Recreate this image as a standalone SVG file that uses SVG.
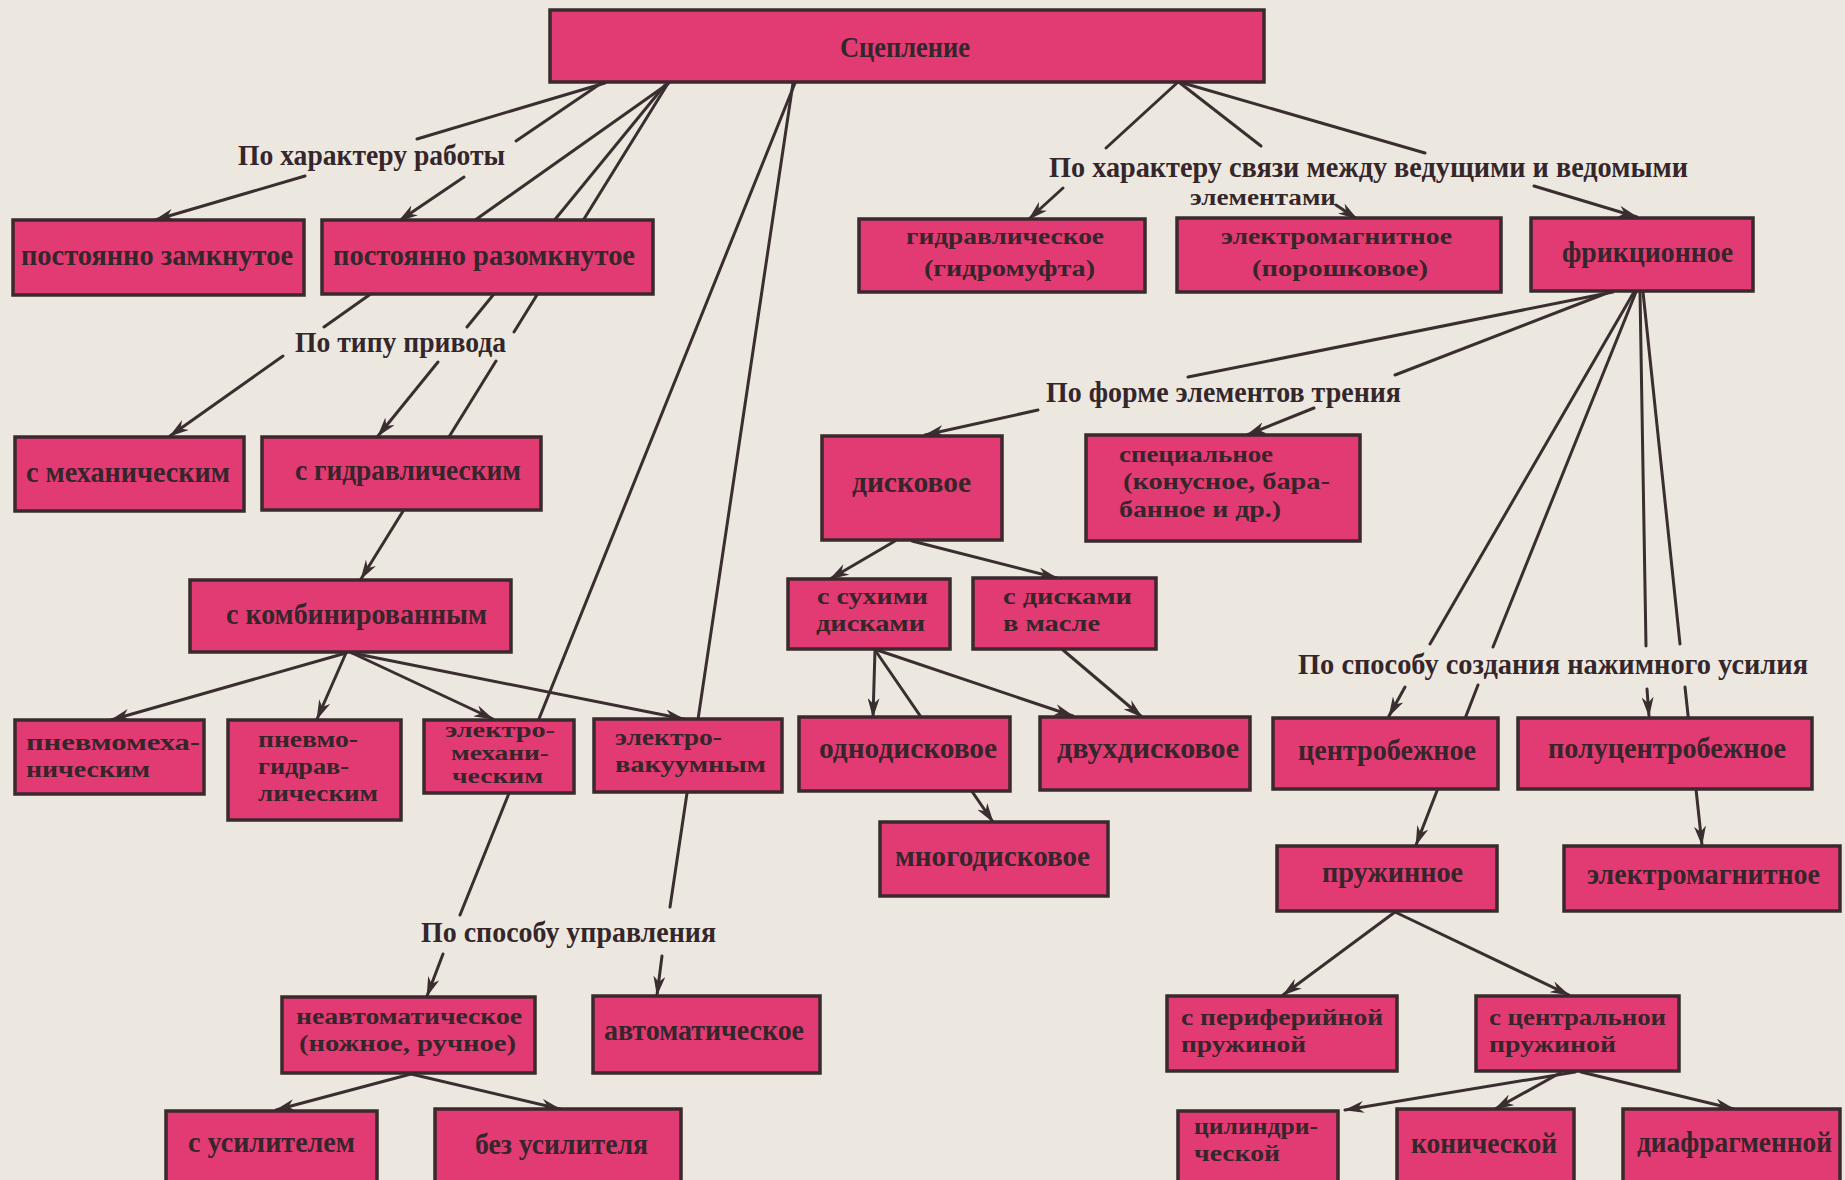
<svg xmlns="http://www.w3.org/2000/svg" width="1845" height="1180" viewBox="0 0 1845 1180">
<defs>
<marker id="ah" viewBox="0 0 20 12" markerWidth="20" markerHeight="12" refX="19" refY="6" markerUnits="userSpaceOnUse" orient="auto">
<path d="M0,0 L20,6 L0,12 L6,6 Z" fill="#3a2e30"/>
</marker>
<style>
.bg{fill:#ece8df}
.box{fill:#e23a72;stroke:#3a2a2e;stroke-width:3.5}
.t{font-family:"Liberation Serif","DejaVu Serif",serif;font-weight:bold;font-size:29px;fill:#35262b}
.m{font-size:24px}
.s{font-size:20px}
.c{stroke:#3a2e30;stroke-width:3;fill:none;stroke-linecap:round}
.a{marker-end:url(#ah)}
</style>
</defs>
<rect class="bg" x="0" y="0" width="1845" height="1180"/>
<g id="connectors">
<line class="c" x1="605" y1="83" x2="417" y2="139"/>
<line class="c a" x1="305" y1="176" x2="155" y2="220"/>
<line class="c" x1="600" y1="84" x2="516" y2="141"/>
<line class="c a" x1="464" y1="177" x2="399" y2="221"/>
<line class="c" x1="669" y1="83" x2="324" y2="327"/>
<line class="c a" x1="283" y1="356" x2="170" y2="436"/>
<line class="c" x1="665" y1="85" x2="467" y2="327"/>
<line class="c a" x1="438" y1="362" x2="378" y2="436"/>
<line class="c" x1="667" y1="85" x2="514" y2="332"/>
<line class="c a" x1="496" y1="361" x2="361" y2="579"/>
<line class="c" x1="795" y1="83" x2="460" y2="915"/>
<line class="c a" x1="443" y1="954" x2="427" y2="996"/>
<line class="c" x1="793" y1="83" x2="670" y2="907"/>
<line class="c a" x1="662" y1="956" x2="657" y2="995"/>
<line class="c" x1="1177" y1="83" x2="1106" y2="148"/>
<line class="c a" x1="1063" y1="188" x2="1029" y2="219"/>
<line class="c" x1="1180" y1="83" x2="1261" y2="146"/>
<line class="c a" x1="1336" y1="205" x2="1357" y2="219"/>
<line class="c" x1="1183" y1="83" x2="1425" y2="153"/>
<line class="c a" x1="1534" y1="186" x2="1637" y2="217"/>
<line class="c" x1="1613" y1="292" x2="1188" y2="377"/>
<line class="c a" x1="1038" y1="410" x2="925" y2="435"/>
<line class="c" x1="1607" y1="293" x2="1395" y2="375"/>
<line class="c a" x1="1314" y1="408" x2="1247" y2="435"/>
<line class="c" x1="1634" y1="292" x2="1430" y2="644"/>
<line class="c a" x1="1405" y1="687" x2="1389" y2="716"/>
<line class="c" x1="1636" y1="292" x2="1493" y2="647"/>
<line class="c a" x1="1478" y1="685" x2="1416" y2="845"/>
<line class="c" x1="1640" y1="292" x2="1646" y2="646"/>
<line class="c a" x1="1647" y1="689" x2="1649" y2="716"/>
<line class="c" x1="1643" y1="292" x2="1680" y2="644"/>
<line class="c a" x1="1685" y1="687" x2="1702" y2="845"/>
<line class="c a" x1="895" y1="541" x2="830" y2="579"/>
<line class="c a" x1="912" y1="541" x2="1057" y2="578"/>
<line class="c a" x1="875" y1="650" x2="873" y2="717"/>
<line class="c a" x1="875" y1="650" x2="993" y2="822"/>
<line class="c a" x1="877" y1="650" x2="1073" y2="716"/>
<line class="c a" x1="1063" y1="650" x2="1142" y2="717"/>
<line class="c a" x1="346" y1="653" x2="111" y2="720"/>
<line class="c a" x1="346" y1="653" x2="317" y2="719"/>
<line class="c a" x1="352" y1="653" x2="493" y2="719"/>
<line class="c a" x1="352" y1="653" x2="684" y2="719"/>
<line class="c a" x1="411" y1="1074" x2="276" y2="1110"/>
<line class="c a" x1="411" y1="1074" x2="560" y2="1109"/>
<line class="c a" x1="1395" y1="912" x2="1283" y2="995"/>
<line class="c a" x1="1395" y1="912" x2="1569" y2="995"/>
<line class="c a" x1="1575" y1="1072" x2="1345" y2="1110"/>
<line class="c a" x1="1560" y1="1073" x2="1495" y2="1109"/>
<line class="c a" x1="1581" y1="1072" x2="1734" y2="1109"/>
</g>
<g id="labels">
<text class="t" x="238" y="165" textLength="267" lengthAdjust="spacingAndGlyphs">По характеру работы</text>
<text class="t" x="295" y="352" textLength="211" lengthAdjust="spacingAndGlyphs">По типу привода</text>
<text class="t" x="421" y="942" textLength="295" lengthAdjust="spacingAndGlyphs">По способу управления</text>
<text class="t" x="1049" y="177" textLength="639" lengthAdjust="spacingAndGlyphs">По характеру связи между ведущими и ведомыми</text>
<text class="t m" x="1190" y="205" textLength="146" lengthAdjust="spacingAndGlyphs">элементами</text>
<text class="t" x="1046" y="402" textLength="355" lengthAdjust="spacingAndGlyphs">По форме элементов трения</text>
<text class="t" x="1298" y="674" textLength="510" lengthAdjust="spacingAndGlyphs">По способу создания нажимного усилия</text>
</g>
<g id="n0"><rect class="box" x="550" y="10" width="714" height="72"/><text class="t" x="840" y="57" textLength="130" lengthAdjust="spacingAndGlyphs">Сцепление</text></g>
<g id="n1"><rect class="box" x="13" y="220" width="291" height="75"/><text class="t" x="21" y="265" textLength="272" lengthAdjust="spacingAndGlyphs">постоянно замкнутое</text></g>
<g id="n2"><rect class="box" x="322" y="220" width="331" height="74"/><text class="t" x="333" y="265" textLength="302" lengthAdjust="spacingAndGlyphs">постоянно разомкнутое</text></g>
<g id="n3"><rect class="box" x="15" y="437" width="229" height="74"/><text class="t" x="26" y="482" textLength="204" lengthAdjust="spacingAndGlyphs">с механическим</text></g>
<g id="n4"><rect class="box" x="262" y="437" width="279" height="73"/><text class="t" x="295" y="480" textLength="226" lengthAdjust="spacingAndGlyphs">с гидравлическим</text></g>
<g id="n5"><rect class="box" x="190" y="580" width="321" height="72"/><text class="t" x="226" y="624" textLength="261" lengthAdjust="spacingAndGlyphs">с комбинированным</text></g>
<g id="n6"><rect class="box" x="15" y="720" width="189" height="74"/><text class="t m" x="26" y="750" textLength="174" lengthAdjust="spacingAndGlyphs">пневмомеха-</text><text class="t m" x="26" y="777" textLength="124" lengthAdjust="spacingAndGlyphs">ническим</text></g>
<g id="n7"><rect class="box" x="228" y="720" width="173" height="100"/><text class="t m" x="258" y="747" textLength="100" lengthAdjust="spacingAndGlyphs">пневмо-</text><text class="t m" x="258" y="774" textLength="91" lengthAdjust="spacingAndGlyphs">гидрав-</text><text class="t m" x="258" y="801" textLength="120" lengthAdjust="spacingAndGlyphs">лическим</text></g>
<g id="n8"><rect class="box" x="424" y="720" width="150" height="73"/><text class="t s" x="445" y="737" textLength="110" lengthAdjust="spacingAndGlyphs">электро-</text><text class="t s" x="451" y="760" textLength="98" lengthAdjust="spacingAndGlyphs">механи-</text><text class="t s" x="452" y="783" textLength="91" lengthAdjust="spacingAndGlyphs">ческим</text></g>
<g id="n9"><rect class="box" x="594" y="719" width="188" height="73"/><text class="t m" x="615" y="745" textLength="107" lengthAdjust="spacingAndGlyphs">электро-</text><text class="t m" x="615" y="772" textLength="151" lengthAdjust="spacingAndGlyphs">вакуумным</text></g>
<g id="n10"><rect class="box" x="282" y="997" width="253" height="76"/><text class="t m" x="296" y="1024" textLength="226" lengthAdjust="spacingAndGlyphs">неавтоматическое</text><text class="t m" x="299" y="1051" textLength="217" lengthAdjust="spacingAndGlyphs">(ножное, ручное)</text></g>
<g id="n11"><rect class="box" x="593" y="996" width="227" height="77"/><text class="t" x="604" y="1040" textLength="200" lengthAdjust="spacingAndGlyphs">автоматическое</text></g>
<g id="n12"><rect class="box" x="166" y="1111" width="211" height="80"/><text class="t" x="188" y="1152" textLength="167" lengthAdjust="spacingAndGlyphs">с усилителем</text></g>
<g id="n13"><rect class="box" x="435" y="1109" width="246" height="80"/><text class="t" x="475" y="1154" textLength="173" lengthAdjust="spacingAndGlyphs">без усилителя</text></g>
<g id="n14"><rect class="box" x="859" y="219" width="286" height="73"/><text class="t m" x="906" y="244" textLength="198" lengthAdjust="spacingAndGlyphs">гидравлическое</text><text class="t m" x="924" y="276" textLength="171" lengthAdjust="spacingAndGlyphs">(гидромуфта)</text></g>
<g id="n15"><rect class="box" x="1177" y="218" width="324" height="74"/><text class="t m" x="1221" y="244" textLength="231" lengthAdjust="spacingAndGlyphs">электромагнитное</text><text class="t m" x="1252" y="276" textLength="176" lengthAdjust="spacingAndGlyphs">(порошковое)</text></g>
<g id="n16"><rect class="box" x="1531" y="218" width="222" height="73"/><text class="t" x="1562" y="262" textLength="171" lengthAdjust="spacingAndGlyphs">фрикционное</text></g>
<g id="n17"><rect class="box" x="822" y="436" width="180" height="104"/><text class="t" x="852" y="492" textLength="119" lengthAdjust="spacingAndGlyphs">дисковое</text></g>
<g id="n18"><rect class="box" x="1086" y="435" width="274" height="106"/><text class="t m" x="1119" y="462" textLength="154" lengthAdjust="spacingAndGlyphs">специальное</text><text class="t m" x="1123" y="489" textLength="207" lengthAdjust="spacingAndGlyphs">(конусное, бара-</text><text class="t m" x="1119" y="517" textLength="162" lengthAdjust="spacingAndGlyphs">банное и др.)</text></g>
<g id="n19"><rect class="box" x="788" y="579" width="162" height="70"/><text class="t m" x="817" y="604" textLength="111" lengthAdjust="spacingAndGlyphs">с сухими</text><text class="t m" x="816" y="631" textLength="109" lengthAdjust="spacingAndGlyphs">дисками</text></g>
<g id="n20"><rect class="box" x="973" y="578" width="183" height="71"/><text class="t m" x="1003" y="604" textLength="129" lengthAdjust="spacingAndGlyphs">с дисками</text><text class="t m" x="1003" y="631" textLength="97" lengthAdjust="spacingAndGlyphs">в масле</text></g>
<g id="n21"><rect class="box" x="799" y="717" width="211" height="74"/><text class="t" x="819" y="758" textLength="178" lengthAdjust="spacingAndGlyphs">однодисковое</text></g>
<g id="n22"><rect class="box" x="1040" y="717" width="210" height="73"/><text class="t" x="1057" y="758" textLength="182" lengthAdjust="spacingAndGlyphs">двухдисковое</text></g>
<g id="n23"><rect class="box" x="880" y="822" width="228" height="74"/><text class="t" x="895" y="866" textLength="195" lengthAdjust="spacingAndGlyphs">многодисковое</text></g>
<g id="n24"><rect class="box" x="1273" y="718" width="225" height="71"/><text class="t" x="1298" y="760" textLength="178" lengthAdjust="spacingAndGlyphs">центробежное</text></g>
<g id="n25"><rect class="box" x="1518" y="718" width="294" height="71"/><text class="t" x="1548" y="758" textLength="238" lengthAdjust="spacingAndGlyphs">полуцентробежное</text></g>
<g id="n26"><rect class="box" x="1277" y="846" width="220" height="65"/><text class="t" x="1322" y="882" textLength="141" lengthAdjust="spacingAndGlyphs">пружинное</text></g>
<g id="n27"><rect class="box" x="1564" y="846" width="276" height="65"/><text class="t" x="1587" y="884" textLength="233" lengthAdjust="spacingAndGlyphs">электромагнитное</text></g>
<g id="n28"><rect class="box" x="1167" y="996" width="230" height="75"/><text class="t m" x="1181" y="1025" textLength="202" lengthAdjust="spacingAndGlyphs">с периферийной</text><text class="t m" x="1181" y="1052" textLength="125" lengthAdjust="spacingAndGlyphs">пружиной</text></g>
<g id="n29"><rect class="box" x="1476" y="996" width="203" height="75"/><text class="t m" x="1489" y="1025" textLength="177" lengthAdjust="spacingAndGlyphs">с центральнои</text><text class="t m" x="1489" y="1052" textLength="127" lengthAdjust="spacingAndGlyphs">пружиной</text></g>
<g id="n30"><rect class="box" x="1178" y="1111" width="160" height="80"/><text class="t m" x="1194" y="1134" textLength="124" lengthAdjust="spacingAndGlyphs">цилиндри-</text><text class="t m" x="1194" y="1161" textLength="86" lengthAdjust="spacingAndGlyphs">ческой</text></g>
<g id="n31"><rect class="box" x="1397" y="1109" width="177" height="80"/><text class="t" x="1411" y="1153" textLength="146" lengthAdjust="spacingAndGlyphs">конической</text></g>
<g id="n32"><rect class="box" x="1623" y="1109" width="217" height="80"/><text class="t" x="1637" y="1152" textLength="195" lengthAdjust="spacingAndGlyphs">диафрагменной</text></g>
</svg>
